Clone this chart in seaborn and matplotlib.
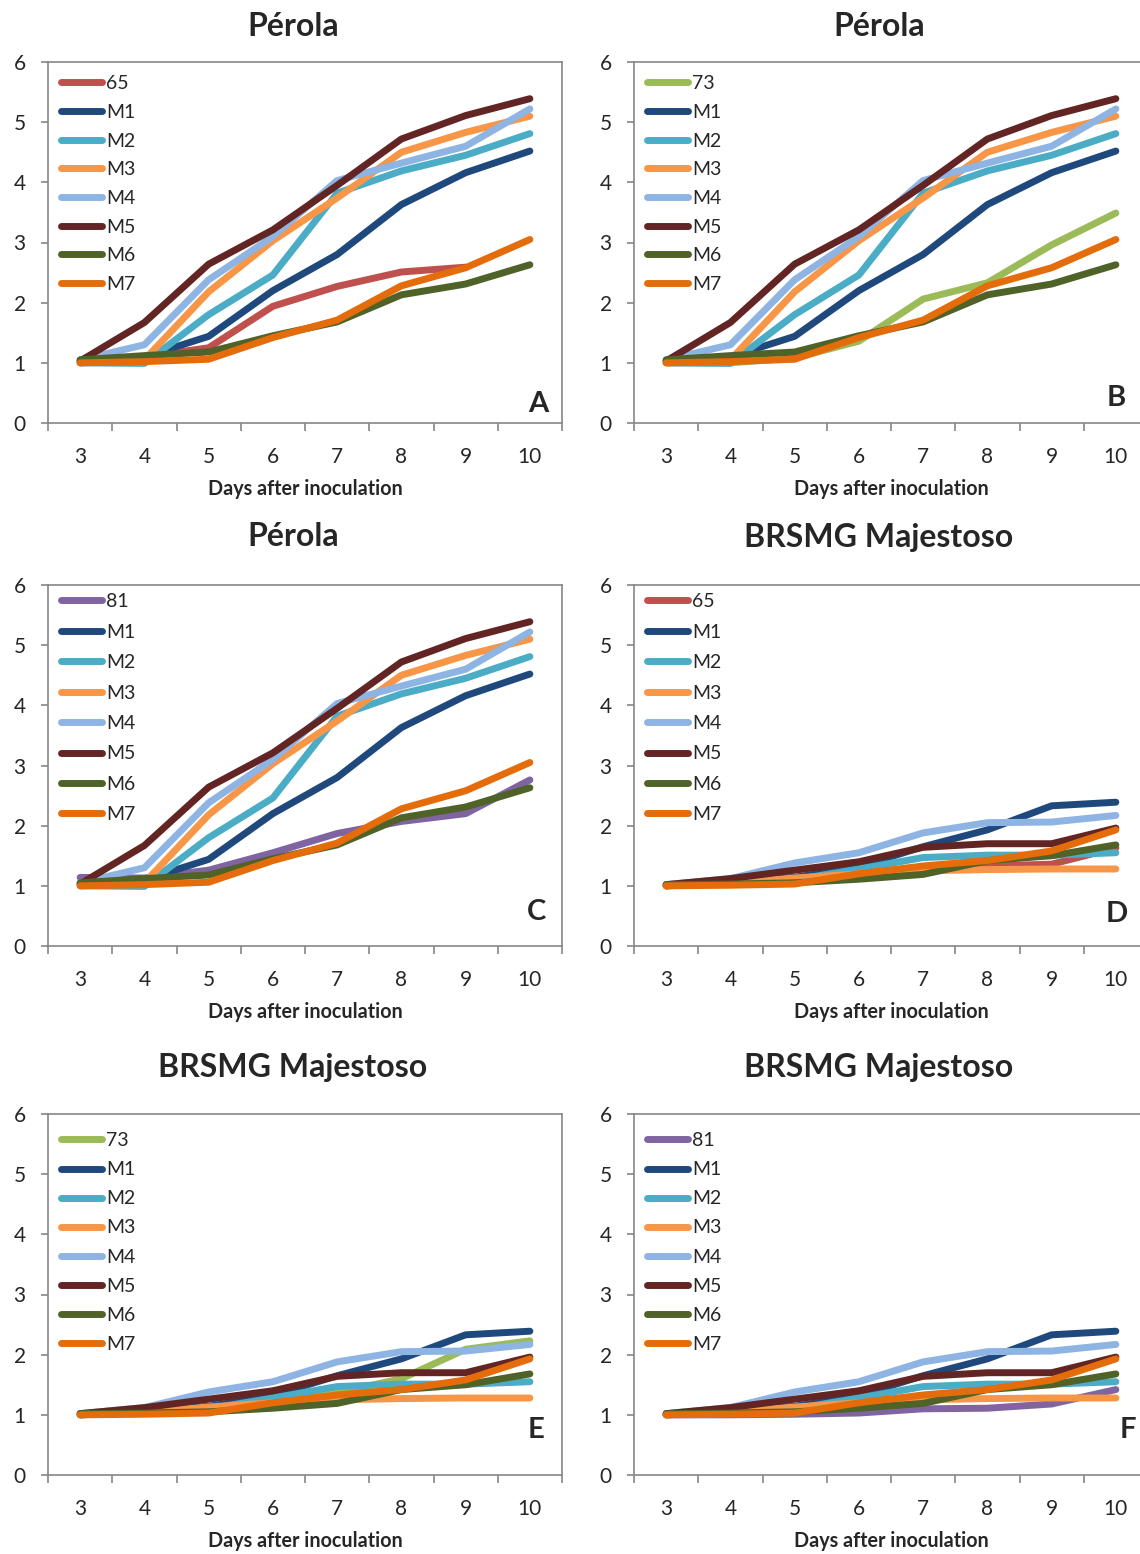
import numpy as np
import pandas as pd
import matplotlib
matplotlib.use('Agg')
import matplotlib.pyplot as plt
import seaborn as sns

days = [3, 4, 5, 6, 7, 8, 9, 10]

# Perola - reference isolates
perola_M1 = [1.03, 1.10, 1.44, 2.20, 2.80, 3.63, 4.16, 4.52]
perola_M2 = [1.00, 0.99, 1.80, 2.46, 3.82, 4.19, 4.45, 4.81]
perola_M3 = [1.00, 1.05, 2.18, 3.03, 3.74, 4.50, 4.83, 5.10]
perola_M4 = [1.05, 1.30, 2.38, 3.10, 4.03, 4.32, 4.60, 5.22]
perola_M5 = [1.03, 1.67, 2.64, 3.21, 3.95, 4.72, 5.11, 5.39]
perola_M6 = [1.05, 1.12, 1.18, 1.45, 1.68, 2.13, 2.31, 2.63]
perola_M7 = [1.00, 1.02, 1.06, 1.42, 1.71, 2.28, 2.58, 3.05]
perola_65 = [1.00, 1.10, 1.25, 1.94, 2.27, 2.51, 2.59, np.nan]
perola_73 = [1.00, 1.00, 1.08, 1.36, 2.06, 2.33, 2.96, 3.49]
perola_81 = [1.14, 1.13, 1.26, 1.55, 1.87, 2.07, 2.20, 2.76]

# BRSMG Majestoso
majest_M1 = [1.00, 1.08, 1.14, 1.32, 1.65, 1.93, 2.33, 2.39]
majest_M2 = [1.00, 1.04, 1.10, 1.28, 1.47, 1.51, 1.51, 1.55]
majest_M3 = [1.00, 1.05, 1.13, 1.20, 1.25, 1.27, 1.28, 1.28]
majest_M4 = [1.02, 1.12, 1.38, 1.55, 1.88, 2.05, 2.06, 2.17]
majest_M5 = [1.02, 1.12, 1.26, 1.40, 1.64, 1.70, 1.70, 1.96]
majest_M6 = [1.02, 1.03, 1.05, 1.11, 1.19, 1.42, 1.50, 1.68]
majest_M7 = [1.00, 1.01, 1.03, 1.20, 1.33, 1.42, 1.58, 1.93]
majest_65 = [1.00, 1.05, 1.10, 1.20, 1.28, 1.33, 1.36, 1.63]
majest_73 = [1.00, 1.04, 1.10, 1.25, 1.37, 1.60, 2.09, 2.23]
majest_81 = [1.00, 1.00, 1.01, 1.03, 1.10, 1.11, 1.18, 1.42]

colors = {'65': '#C0504D', '73': '#9BBB59', '81': '#8064A2',
          'M1': '#1F497D', 'M2': '#4BACC6', 'M3': '#F79646', 'M4': '#8DB4E2',
          'M5': '#632523', 'M6': '#4F6228', 'M7': '#E46C0A'}

perola_ref = [perola_M1, perola_M2, perola_M3, perola_M4, perola_M5, perola_M6, perola_M7]
majest_ref = [majest_M1, majest_M2, majest_M3, majest_M4, majest_M5, majest_M6, majest_M7]
ref_names = ['M1', 'M2', 'M3', 'M4', 'M5', 'M6', 'M7']

panels = [
    ('Pérola', '65', perola_65, perola_ref, 'A'),
    ('Pérola', '73', perola_73, perola_ref, 'B'),
    ('Pérola', '81', perola_81, perola_ref, 'C'),
    ('BRSMG Majestoso', '65', majest_65, majest_ref, 'D'),
    ('BRSMG Majestoso', '73', majest_73, majest_ref, 'E'),
    ('BRSMG Majestoso', '81', majest_81, majest_ref, 'F'),
]

sns.set_style('white')
plt.rcParams['font.family'] = ['Lato', 'DejaVu Sans']

W, H = 1140, 1554
fig = plt.figure(figsize=(W / 100, H / 100), dpi=100, facecolor='white')

# layout in pixels
lefts = [48, 634]
tops = [62, 585, 1114]
title_y = [27, 537, 1067]
leg_off = [9.4, 4.4, 14.4]
leg_space = [0.60, 0.69, 0.62]
letter_xy = [(538, 401), (1116, 395), (537, 909), (1117, 912), (536, 1427), (1128, 1427)]
pw, ph = 514, 361
grey = '#868686'

for i, (title, iso, iso_vals, ref_vals, letter) in enumerate(panels):
    row, col = i // 2, i % 2
    left, top = lefts[col], tops[row]
    ax = fig.add_axes([left / W, 1 - (top + ph) / H, pw / W, ph / H])

    rows = []
    for d, v in zip(days, iso_vals):
        rows.append({'day': d, 'value': v, 'isolate': iso})
    for name, vals in zip(ref_names, ref_vals):
        for d, v in zip(days, vals):
            rows.append({'day': d, 'value': v, 'isolate': name})
    df = pd.DataFrame(rows).dropna()
    order = [iso] + ref_names

    sns.lineplot(data=df, x='day', y='value', hue='isolate', hue_order=order,
                 palette=colors, linewidth=5, legend=False, ax=ax, sort=False)
    for ln in ax.lines:
        ln.set_solid_capstyle('round')
        ln.set_solid_joinstyle('round')

    ax.legend(handles=ax.lines[:len(order)], labels=order, loc='upper left',
              bbox_to_anchor=(9.6 / pw, 1 - leg_off[row] / ph), frameon=False,
              fontsize=14, handlelength=2.1, handletextpad=0.18,
              labelspacing=leg_space[row], borderaxespad=0, borderpad=0.2)

    ax.set_xlim(2.5, 10.5)
    ax.set_ylim(0, 6)
    ax.set_xticks(np.arange(2.5, 10.6, 1.0))
    ax.set_xticklabels([])
    ax.set_xticks(days, minor=True)
    ax.set_xticklabels([str(d) for d in days], minor=True, fontsize=15)
    ax.set_yticks(range(0, 7))
    ax.set_yticklabels([str(v) for v in range(0, 7)], fontsize=15)
    ax.tick_params(axis='x', which='major', direction='out', length=6,
                   width=1.2, color=grey, bottom=True)
    ax.tick_params(axis='x', which='minor', length=0, pad=17)
    ax.tick_params(axis='y', direction='out', length=5, width=1.2,
                   color=grey, left=True, pad=11)
    for s in ax.spines.values():
        s.set_color(grey)
        s.set_linewidth(1.2)
    ax.set_xlabel('')
    ax.set_ylabel('')

    lx, ly = letter_xy[i]
    ax.text((lx - left) / pw, 1 - (ly + 10.5 - top) / ph, letter,
            transform=ax.transAxes, ha='center', va='baseline',
            fontsize=21, fontweight='bold')

    cx = (left + pw / 2) / W
    fig.text(cx - 12 / W, 1 - title_y[row] / H, title, ha='center',
             va='center', fontsize=23, fontweight='bold')
    fig.text(cx, 1 - (top + ph + 66) / H, 'Days after inoculation',
             ha='center', va='center', fontsize=14.2, fontweight='bold')

fig.savefig('out.png', dpi=100, facecolor='white')
